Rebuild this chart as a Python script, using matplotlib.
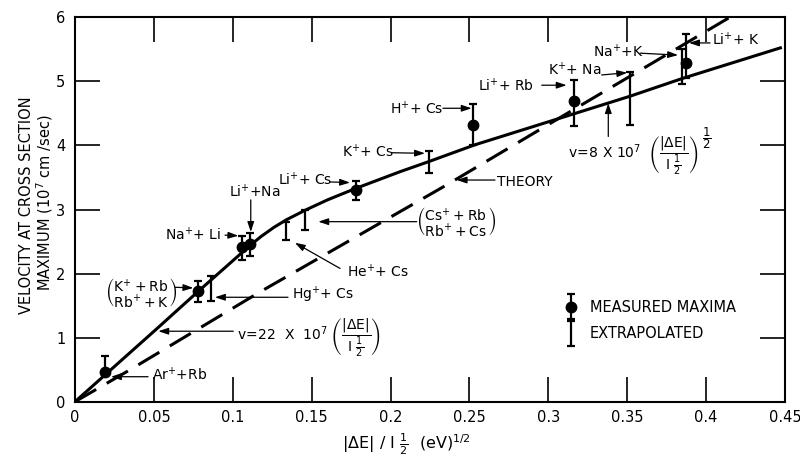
import numpy as np
import matplotlib
matplotlib.use("Agg")
import matplotlib.pyplot as plt
from matplotlib.legend_handler import HandlerErrorbar
from matplotlib.container import ErrorbarContainer

# ---------------- data ----------------
measured_labels = ["Ar+Rb", "K+Rb / Rb+K", "Na+Li", "Li+Na", "Li+Cs", "H+Cs", "Li+Rb", "Li+K"]
measured_x = [0.019, 0.078, 0.106, 0.111, 0.178, 0.2525, 0.316, 0.387]
measured_y = [0.47, 1.73, 2.42, 2.46, 3.31, 4.32, 4.69, 5.29]
measured_lo = [0.42, 1.56, 2.21, 2.27, 3.15, 4.01, 4.31, 5.05]
measured_hi = [0.71, 1.89, 2.59, 2.64, 3.44, 4.64, 5.02, 5.74]

extrap_labels = ["Hg+Cs", "He+Cs", "Cs+Rb / Rb+Cs", "K+Cs", "K+Na", "Na+K"]
extrap_x = [0.0862, 0.134, 0.1458, 0.2245, 0.3517, 0.3845]
extrap_lo = [1.57, 2.53, 2.68, 3.57, 4.32, 4.96]
extrap_hi = [1.96, 2.81, 3.00, 3.91, 5.14, 5.51]

fit_x = [0, 0.051, 0.078, 0.111, 0.118, 0.126, 0.134, 0.146, 0.160, 0.178, 0.206,
         0.2245, 0.2535, 0.295, 0.352, 0.3855, 0.448]
fit_y = [0, 1.12, 1.72, 2.44, 2.58, 2.72, 2.84, 2.99, 3.15, 3.33, 3.59,
         3.75, 4.01, 4.33, 4.77, 5.05, 5.53]

theory_x = [0, 0.035, 0.117, 0.236, 0.303, 0.415]
theory_y = [0, 0.50, 1.71, 3.39, 4.37, 6.00]

xticks = [0, 0.05, 0.1, 0.15, 0.2, 0.25, 0.3, 0.35, 0.4, 0.45]
xtick_labels = ["0", "0.05", "0.1", "0.15", "0.2", "0.25", "0.3", "0.35", "0.4", "0.45"]
yticks = [0, 1, 2, 3, 4, 5, 6]
ytick_labels = ["0", "1", "2", "3", "4", "5", "6"]

# ---------------- figure ----------------
plt.rcParams["font.family"] = ["DejaVu Sans"]
plt.rcParams["mathtext.fontset"] = "dejavusans"

fig = plt.figure(figsize=(8, 4.59), dpi=100)
ax = fig.add_axes([75 / 800, 1 - 401.7 / 459, 710 / 800, 384.4 / 459])
ax.set_xlim(0, 0.45)
ax.set_ylim(0, 6)

for s in ax.spines.values():
    s.set_linewidth(1.5)

ax.set_xticks(xticks)
ax.set_xticklabels(xtick_labels)
ax.set_yticks(yticks)
ax.set_yticklabels(ytick_labels)
ax.tick_params(direction="in", length=18, width=1.2, top=True, right=True,
               labelsize=10.5)
ax.tick_params(axis="x", pad=6)
ax.tick_params(axis="y", pad=7)

# curves
ax.plot(fit_x, fit_y, color="black", lw=2.2, solid_capstyle="butt",
        solid_joinstyle="round", zorder=2)
ax.plot(theory_x, theory_y, color="black", lw=2.2, linestyle=(0, (8.0, 4.0)),
        dash_capstyle="butt", zorder=2)

# error bars
m_y = np.array(measured_y)
m_err = [m_y - np.array(measured_lo), np.array(measured_hi) - m_y]
meas = ax.errorbar(measured_x, measured_y, yerr=m_err, fmt="o", ms=7.5,
                   color="black", ecolor="black", elinewidth=1.6,
                   capsize=2.8, capthick=1.6, zorder=4)

e_lo = np.array(extrap_lo)
e_hi = np.array(extrap_hi)
e_mid = (e_lo + e_hi) / 2
extr = ax.errorbar(extrap_x, e_mid, yerr=(e_hi - e_lo) / 2, fmt="none",
                   ecolor="black", elinewidth=1.6, capsize=2.8, capthick=1.6,
                   zorder=4)

# legend
ax.legend([meas, extr], ["MEASURED MAXIMA", "EXTRAPOLATED"],
          loc="center left", bbox_to_anchor=(0.3023, 1.267),
          bbox_transform=ax.transData, frameon=False, fontsize=10.5,
          handlelength=0.8, handletextpad=0.9, labelspacing=0.8,
          borderpad=0.4, numpoints=1,
          handler_map={ErrorbarContainer: HandlerErrorbar(yerr_size=0.85)})

# ---------------- annotations ----------------
arrow_kw = dict(arrowstyle="-|>,head_length=0.6,head_width=0.2",
                color="black", lw=0.9, shrinkA=0, shrinkB=0)


def arrow(tail, head):
    ax.annotate("", xy=head, xytext=tail, arrowprops=arrow_kw, zorder=5)


fs = 10
pair_kr = r"$\genfrac{(}{)}{0}{0}{\mathrm{K^{+}+Rb}}{\mathrm{Rb^{+}+K}}$"
pair_cr = r"$\genfrac{(}{)}{0}{0}{\mathrm{Cs^{+}+Rb}}{\mathrm{Rb^{+}+Cs}}$"
v22 = r"$\mathrm{v\!=\!22\ \ X\ \ 10^{7}}\ \left(\dfrac{|\Delta \mathrm{E}|}{\mathrm{I}\ \frac{1}{2}}\right)$"
v8 = r"$\mathrm{v\!=\!8\ X\ 10^{7}}\ \ \left(\dfrac{|\Delta \mathrm{E}|}{\mathrm{I}\ \frac{1}{2}}\right)$"

# (text, text position, ha, arrow tail, arrow head)
notes = [
    ("Ar$^{+}$+Rb", (0.0488, 0.417), "left", (0.0463, 0.39), (0.0228, 0.39)),
    (pair_kr, (0.0418, 1.712), "center", (0.0634, 1.786), (0.0750, 1.776)),
    ("Hg$^{+}$+ Cs", (0.1373, 1.665), "left", (0.1350, 1.63), (0.0887, 1.63)),
    (v22, (0.1025, 1.01), "left", (0.1003, 1.10), (0.0528, 1.10)),
    ("Na$^{+}$+ Li", (0.0570, 2.60), "left", (0.0951, 2.60), (0.1035, 2.59)),
    ("Li$^{+}$+Na", (0.1141, 3.28), "center", (0.1114, 3.15), (0.1114, 2.65)),
    ("Li$^{+}$+ Cs", (0.1287, 3.46), "left", (0.1616, 3.43), (0.1743, 3.42)),
    ("K$^{+}$+ Cs", (0.1690, 3.90), "left", (0.2007, 3.886), (0.2218, 3.877)),
    ("H$^{+}$+ Cs", (0.1996, 4.58), "left", (0.2332, 4.58), (0.2514, 4.58)),
    ("Li$^{+}$+ Rb", (0.2554, 4.94), "left", (0.2958, 4.94), (0.3116, 4.94)),
    ("K$^{+}$+ Na", (0.2998, 5.18), "left", (0.3338, 5.10), (0.3500, 5.135)),
    ("Na$^{+}$+K", (0.3283, 5.46), "left", (0.3581, 5.44), (0.3822, 5.41)),
    ("Li$^{+}$+ K", (0.4035, 5.645), "left", (0.4025, 5.60), (0.3892, 5.60)),
    ("THEORY", (0.2673, 3.43), "left", (0.2662, 3.46), (0.2419, 3.46)),
    (v8, (0.3125, 3.85), "left", (0.3380, 4.14), (0.3380, 4.66)),
    (pair_cr, (0.2415, 2.805), "center", (0.2166, 2.81), (0.1542, 2.81)),
    ("He$^{+}$+ Cs", (0.1722, 2.03), "left", (0.1680, 2.08), (0.1394, 2.48)),
]

for text, pos, ha, tail, head in notes:
    ax.text(pos[0], pos[1], text, ha=ha, va="center", fontsize=fs, zorder=5)
    arrow(tail, head)

# exponent 1/2 of the v = 8 x 10^7 formula
ax.text(0.4005, 4.12, r"$\dfrac{1}{2}$", ha="center", va="center", fontsize=8.5)

# axis labels
fig.text(27 / 800, 1 - 205 / 459, "VELOCITY AT CROSS SECTION", rotation=90,
         ha="center", va="center", fontsize=10.5)
fig.text(45 / 800, 1 - 203 / 459, r"MAXIMUM (10$^{7}$ cm /sec)", rotation=90,
         ha="center", va="center", fontsize=10.5)
fig.text(406 / 800, 1 - 444 / 459,
         r"$|\Delta \mathrm{E}|\ /\ \mathrm{I}\ \frac{1}{2}\ \ (\mathrm{eV})^{1/2}$",
         ha="center", va="center", fontsize=11.5)

fig.savefig("out.png", dpi=100)
